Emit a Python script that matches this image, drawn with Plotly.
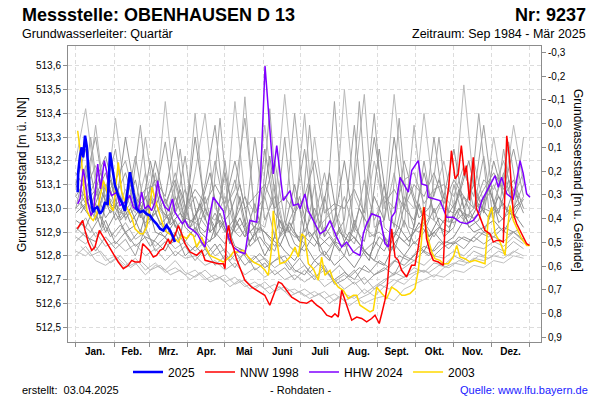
import plotly.graph_objects as go

# ---------------- data ----------------
month_labels = ["Jan.", "Feb.", "Mrz.", "Apr.", "Mai", "Juni", "Juli", "Aug.", "Sept.", "Okt.", "Nov.", "Dez."]
month_mid = [15.5, 45, 74.5, 105, 135.5, 166, 196.5, 227.5, 258, 288.5, 319, 349.5]
month_start = [0, 31, 59, 90, 120, 151, 181, 212, 243, 273, 304, 334, 365]

y_ticks = [512.5, 512.6, 512.7, 512.8, 512.9, 513.0, 513.1, 513.2, 513.3, 513.4, 513.5, 513.6]
y_ticktext = ["512,5", "512,6", "512,7", "512,8", "512,9", "513,0", "513,1", "513,2", "513,3", "513,4", "513,5", "513,6"]
depth_ticks = [-0.3, -0.2, -0.1, 0.0, 0.1, 0.2, 0.3, 0.4, 0.5, 0.6, 0.7, 0.8, 0.9]
depth_ticktext = ["-0,3", "-0,2", "-0,1", "0,0", "0,1", "0,2", "0,3", "0,4", "0,5", "0,6", "0,7", "0,8", "0,9"]
ground_level = 513.357
y_range = [512.437, 513.684]

# background years (grey), sampled every 8 days
grey_days = [0, 8, 16, 24, 32, 40, 48, 56, 64, 72, 80, 88, 96, 104, 112, 120, 128, 136, 144, 152, 160, 168, 176,
             184, 192, 200, 208, 216, 224, 232, 240, 248, 256, 264, 272, 280, 288, 296, 304, 312, 320, 328,
             336, 344, 352, 360]
grey_01 = [513.10, 513.25, 513.05, 513.15, 513.00, 513.30, 513.05, 512.98, 513.20, 513.02, 513.12, 512.95,
           513.30, 513.00, 512.92, 513.15, 512.95, 513.05, 512.90, 513.25, 512.98, 512.92, 513.10,
           512.90, 513.00, 512.88, 512.95, 513.20, 512.92, 512.86, 513.05, 512.95, 513.30, 513.00,
           512.95, 513.15, 512.98, 513.05, 513.25, 513.00, 513.10, 512.98, 513.20, 513.05, 513.12, 513.00]
grey_02 = [513.20, 513.42, 513.10, 513.00, 513.38, 513.05, 512.98, 513.15, 513.00, 513.45, 513.05, 512.95,
           513.15, 513.40, 513.00, 512.95, 513.45, 513.05, 512.98, 513.35, 513.00, 513.48, 513.05,
           512.95, 513.30, 513.00, 512.92, 513.50, 513.05, 512.95, 513.20, 513.00, 513.48, 513.05,
           513.00, 513.40, 513.05, 513.20, 513.00, 513.52, 513.10, 513.00, 513.30, 513.05, 513.35, 513.10]
grey_03 = [513.00, 513.05, 512.95, 513.10, 512.95, 513.00, 513.12, 512.92, 512.98, 512.90, 513.05, 512.92,
           512.88, 513.00, 512.90, 512.85, 512.95, 512.88, 513.02, 512.86, 512.82, 512.95, 512.85,
           512.82, 512.90, 512.80, 512.86, 512.80, 512.95, 512.82, 512.78, 512.88, 512.82, 512.95,
           512.85, 512.90, 513.00, 512.88, 512.92, 513.05, 512.95, 512.90, 513.00, 512.95, 513.08, 512.98]
grey_04 = [512.82, 512.80, 512.84, 512.78, 512.80, 512.76, 512.79, 512.74, 512.77, 512.73, 512.75, 512.72,
           512.74, 512.70, 512.72, 512.69, 512.71, 512.67, 512.69, 512.66, 512.68, 512.65, 512.66,
           512.63, 512.65, 512.62, 512.64, 512.61, 512.63, 512.60, 512.62, 512.63, 512.61, 512.66,
           512.68, 512.70, 512.72, 512.71, 512.74, 512.73, 512.76, 512.75, 512.78, 512.77, 512.80, 512.79]
grey_05 = [512.88, 512.85, 512.90, 512.84, 512.86, 512.82, 512.85, 512.80, 512.83, 512.78, 512.82, 512.79,
           512.80, 512.76, 512.78, 512.74, 512.77, 512.72, 512.75, 512.71, 512.74, 512.70, 512.72,
           512.69, 512.72, 512.67, 512.70, 512.66, 512.69, 512.64, 512.67, 512.70, 512.72, 512.75,
           512.78, 512.76, 512.80, 512.79, 512.82, 512.80, 512.84, 512.83, 512.86, 512.84, 512.88, 512.85]
grey_06 = [513.05, 513.12, 513.30, 513.02, 513.10, 513.00, 513.22, 512.98, 513.05, 513.28, 512.98, 513.08,
           512.95, 513.10, 513.35, 512.98, 513.12, 512.92, 513.30, 512.95, 513.05, 512.90, 513.00,
           513.25, 512.92, 513.05, 512.88, 512.95, 513.35, 512.92, 512.88, 513.10, 512.92, 513.20,
           513.05, 512.95, 513.30, 513.00, 512.98, 513.15, 513.05, 513.35, 513.02, 513.15, 513.00, 513.10]
grey_07 = [512.95, 512.92, 513.02, 512.90, 512.98, 512.90, 512.93, 513.05, 512.90, 512.88, 512.95, 512.86,
           512.92, 512.85, 512.88, 512.95, 512.84, 512.82, 512.90, 512.80, 512.88, 512.82, 512.78,
           512.85, 512.78, 512.82, 512.76, 512.80, 512.75, 512.82, 512.78, 512.76, 512.85, 512.80,
           512.86, 512.82, 512.90, 512.85, 512.88, 512.95, 512.90, 512.92, 512.95, 512.90, 512.98, 512.92]
grey_08 = [513.15, 513.08, 513.18, 513.05, 513.12, 513.20, 513.02, 513.08, 513.10, 513.00, 513.15, 512.98,
           513.05, 512.95, 513.20, 513.00, 513.08, 513.38, 512.98, 513.05, 513.20, 512.95, 513.40,
           513.00, 512.95, 513.15, 512.92, 513.05, 512.90, 513.12, 512.95, 513.05, 513.00, 513.12,
           513.15, 513.02, 513.08, 513.10, 513.05, 513.18, 513.00, 513.12, 513.08, 513.20, 513.05, 513.15]
grey_09 = [512.92, 512.88, 512.86, 512.95, 512.85, 512.90, 512.84, 512.88, 512.86, 512.82, 512.90, 512.80,
           512.84, 512.80, 512.85, 512.78, 512.82, 512.76, 512.80, 512.75, 512.78, 512.80, 512.74,
           512.72, 512.78, 512.74, 512.70, 512.73, 512.70, 512.76, 512.72, 512.74, 512.78, 512.76,
           512.80, 512.84, 512.82, 512.86, 512.85, 512.88, 512.86, 512.90, 512.88, 512.92, 512.90, 512.86]
grey_10 = [513.00, 513.18, 512.95, 513.08, 513.25, 512.95, 513.05, 512.92, 513.15, 512.92, 512.98, 513.22,
           512.90, 513.05, 512.88, 513.20, 512.90, 512.95, 512.86, 513.05, 512.88, 513.30, 512.90,
           512.85, 513.10, 512.88, 513.45, 512.90, 512.85, 513.00, 513.40, 512.92, 512.88, 513.05,
           512.92, 513.20, 512.95, 512.90, 513.10, 512.95, 513.00, 513.22, 512.95, 513.25, 512.98, 513.05]
grey_11 = [512.90, 512.96, 512.88, 512.92, 512.88, 512.94, 512.87, 512.90, 512.84, 512.88, 512.83, 512.86,
           512.82, 512.86, 512.80, 512.83, 512.78, 512.81, 512.77, 512.79, 512.75, 512.78, 512.73,
           512.76, 512.71, 512.74, 512.69, 512.72, 512.68, 512.71, 512.66, 512.69, 512.73, 512.71,
           512.75, 512.73, 512.77, 512.76, 512.80, 512.78, 512.82, 512.80, 512.84, 512.82, 512.86, 512.83]
grey_12 = [513.05, 513.00, 513.35, 513.02, 512.98, 513.08, 513.00, 513.30, 513.02, 512.96, 513.10, 512.94,
           513.40, 512.98, 512.95, 513.05, 512.92, 513.47, 512.95, 512.92, 513.10, 512.90, 512.95,
           513.40, 512.90, 512.95, 513.00, 512.88, 513.10, 513.48, 512.92, 512.95, 513.15, 512.92,
           513.35, 512.98, 512.95, 513.05, 513.00, 512.95, 513.20, 513.02, 513.10, 513.00, 512.98, 513.30]
grey_13 = [512.80, 512.84, 512.78, 512.76, 512.79, 512.75, 512.77, 512.72, 512.76, 512.74, 512.78, 512.73,
           512.71, 512.74, 512.70, 512.72, 512.68, 512.70, 512.66, 512.69, 512.65, 512.67, 512.64,
           512.66, 512.63, 512.65, 512.61, 512.64, 512.62, 512.66, 512.63, 512.67, 512.70, 512.68,
           512.72, 512.74, 512.71, 512.75, 512.77, 512.76, 512.79, 512.78, 512.80, 512.79, 512.82, 512.80]
grey_14 = [512.98, 513.02, 513.08, 512.96, 513.02, 512.96, 513.00, 512.94, 512.98, 513.04, 512.92, 512.96,
           512.94, 512.90, 512.98, 512.90, 512.96, 512.88, 512.92, 512.90, 512.84, 512.92, 512.88,
           512.88, 512.84, 512.92, 512.86, 512.84, 512.88, 512.82, 512.86, 512.82, 512.90, 512.86,
           512.90, 512.94, 512.88, 512.95, 512.94, 512.98, 512.96, 513.00, 512.98, 513.02, 512.96, 513.04]
grey_15 = [513.10, 513.02, 513.12, 513.22, 513.05, 513.15, 513.00, 513.04, 513.12, 513.05, 513.30, 513.00,
           513.08, 513.02, 513.10, 513.02, 513.20, 513.00, 513.05, 513.10, 513.00, 513.05, 512.98,
           513.05, 513.20, 512.98, 513.02, 513.00, 513.08, 512.98, 513.30, 513.02, 513.08, 513.00,
           513.10, 513.05, 513.15, 513.02, 513.12, 513.05, 513.00, 513.08, 513.15, 513.08, 513.25, 513.05]
grey_16 = [512.86, 512.90, 512.82, 512.88, 512.83, 512.87, 512.80, 512.92, 512.82, 512.86, 512.80, 512.84,
           512.78, 512.83, 512.76, 512.80, 512.75, 512.82, 512.74, 512.77, 512.72, 512.75, 512.70,
           512.74, 512.70, 512.76, 512.68, 512.70, 512.74, 512.68, 512.72, 512.75, 512.72, 512.80,
           512.78, 512.82, 512.80, 512.84, 512.86, 512.83, 512.88, 512.85, 512.88, 512.86, 512.90, 512.87]

# more background years, sampled every 8 days starting at day 4
grey_days_b = [4, 12, 20, 28, 36, 44, 52, 60, 68, 76, 84, 92, 100, 108, 116, 124, 132, 140, 148, 156, 164, 172,
               180, 188, 196, 204, 212, 220, 228, 236, 244, 252, 260, 268, 276, 284, 292, 300, 308, 316, 324,
               332, 340, 348, 356]
grey_b1 = [513.02, 512.96, 513.08, 512.98, 513.04, 512.94, 513.00, 512.95, 513.06, 512.93, 512.98, 512.92,
           513.02, 512.90, 512.95, 512.88, 512.96, 512.86, 512.92, 512.88, 512.84, 512.94, 512.86, 512.90,
           512.84, 512.88, 512.82, 512.90, 512.85, 512.80, 512.88, 512.84, 512.92, 512.86, 512.94, 512.88,
           512.96, 512.92, 513.00, 512.94, 513.02, 512.96, 513.05, 512.98, 513.02]
grey_b2 = [513.08, 513.00, 513.15, 513.02, 512.98, 513.10, 512.96, 513.20, 513.00, 512.95, 513.08, 512.94,
           513.00, 513.15, 512.92, 512.98, 513.10, 512.90, 512.95, 513.22, 512.92, 512.90, 513.05, 512.88,
           512.92, 513.15, 512.90, 512.86, 513.00, 512.92, 513.25, 512.95, 512.92, 513.10, 512.96, 513.00,
           513.12, 512.98, 513.05, 513.20, 513.00, 513.08, 512.98, 513.12, 513.04]
grey_b3 = [512.94, 512.90, 512.97, 512.88, 512.93, 512.86, 512.91, 512.84, 512.90, 512.85, 512.88, 512.82,
           512.86, 512.80, 512.85, 512.78, 512.83, 512.77, 512.81, 512.76, 512.80, 512.74, 512.79, 512.73,
           512.77, 512.72, 512.76, 512.71, 512.75, 512.73, 512.78, 512.75, 512.80, 512.78, 512.83, 512.80,
           512.86, 512.83, 512.88, 512.86, 512.90, 512.88, 512.92, 512.89, 512.91]
grey_b4 = [513.00, 513.30, 512.98, 513.04, 512.96, 513.02, 513.35, 512.96, 513.00, 512.94, 513.25, 512.92,
           512.96, 512.90, 513.38, 512.92, 512.88, 512.94, 512.90, 513.42, 512.88, 512.92, 512.86, 513.35,
           512.88, 512.84, 512.90, 512.86, 513.45, 512.88, 512.90, 512.86, 513.38, 512.92, 512.90, 512.96,
           513.30, 512.94, 513.00, 512.96, 513.40, 513.00, 512.98, 513.28, 513.02]
grey_b5 = [512.98, 513.05, 512.92, 513.12, 512.95, 513.00, 512.90, 513.05, 512.93, 512.98, 512.88, 513.10,
           512.90, 512.86, 512.98, 512.85, 513.05, 512.84, 512.88, 512.82, 512.95, 512.84, 512.80, 513.10,
           512.82, 512.78, 512.92, 512.80, 512.84, 512.78, 512.95, 512.82, 512.88, 512.84, 513.02, 512.88,
           512.92, 512.90, 513.08, 512.92, 512.95, 513.10, 512.94, 512.98, 512.96]
grey_b6 = [512.84, 512.80, 512.82, 512.77, 512.80, 512.75, 512.78, 512.74, 512.76, 512.72, 512.74, 512.70,
           512.73, 512.69, 512.71, 512.67, 512.70, 512.66, 512.68, 512.64, 512.67, 512.63, 512.65, 512.62,
           512.64, 512.60, 512.63, 512.59, 512.62, 512.64, 512.68, 512.66, 512.70, 512.72, 512.74, 512.73,
           512.76, 512.75, 512.78, 512.77, 512.80, 512.79, 512.82, 512.80, 512.83]

# 2025 (blue)
y2025_days = [1.6, 2.0, 3.5, 4.8, 6.0, 7.5, 8.8, 10.0, 11.5, 12.9, 14.0, 15.5, 17.4, 19.5, 21.4, 23.5, 25.7,
              27.6, 29.4, 31.6, 34.2, 37.0, 39.6, 42.3, 43.6, 46.3, 49.0, 51.7, 54.3, 57.0, 59.7, 62.4,
              65.0, 67.8, 70.4, 73.0, 75.8, 77.7, 79.8]
y2025_vals = [513.068, 513.152, 513.222, 513.257, 513.215, 513.306, 513.264, 513.167, 513.068, 513.012,
              512.984, 513.000, 513.005, 512.977, 512.990, 513.023, 513.019, 513.236, 513.166, 513.096,
              513.054, 513.026, 512.990, 513.096, 513.152, 513.068, 512.998, 512.984, 512.990, 512.977,
              512.970, 512.949, 512.935, 512.914, 512.907, 512.928, 512.907, 512.886, 512.858]

# NNW 1998 (red)
nnw_days = [1.3, 3.0, 5.6, 7.5, 10.0, 12.9, 15.5, 19.0, 22.2, 24.9, 28.9, 34.2, 38.3, 42.3, 45.0, 47.7, 51.7,
            53.9, 56.5, 59.2, 62.4, 65.0, 67.8, 70.4, 74.4, 75.8, 79.8, 82.5, 85.2, 87.9, 91.9, 97.3, 101.3,
            104.0, 109.3, 114.6, 118.6, 120.0, 121.4, 123.0, 124.5, 126.7, 129.0, 133.0, 136.0, 141.5,
            148.0, 152.0, 156.0, 159.0, 163.0, 165.6, 169.7, 173.6, 177.6, 180.0, 185.6, 189.7, 193.7,
            197.7, 201.8, 205.8, 208.4, 211.0, 213.8, 216.5, 219.0, 221.9, 225.9, 229.9, 233.9, 237.9,
            240.6, 244.0, 246.0, 248.6, 250.5, 254.0, 256.7, 259.3, 262.0, 266.0, 270.0, 272.7, 275.4,
            278.0, 280.0, 282.0, 284.8, 287.5, 291.5, 295.5, 297.5, 300.0, 302.0, 305.0, 307.5, 310.0,
            312.5, 314.0, 316.5, 319.6, 322.0, 325.0, 329.0, 333.0, 335.7, 338.4, 341.0, 343.7, 346.5,
            348.6, 350.0, 351.8, 354.5, 358.5, 362.5, 364.7]
nnw_vals = [512.914, 512.928, 512.949, 512.907, 512.858, 512.823, 512.837, 512.907, 512.879, 512.851, 512.816,
            512.774, 512.746, 512.760, 512.781, 512.774, 512.774, 512.851, 512.837, 512.823, 512.795, 512.802,
            512.823, 512.830, 512.872, 512.851, 512.886, 512.928, 512.893, 512.851, 512.816, 512.802, 512.823,
            512.781, 512.774, 512.767, 512.767, 512.746, 512.893, 512.928, 512.872, 512.837, 512.790, 512.740,
            512.697, 512.668, 512.648, 512.634, 512.592, 512.634, 512.690, 512.683, 512.655, 512.626, 512.613,
            512.605, 512.600, 512.613, 512.592, 512.578, 512.550, 512.542, 512.556, 512.542, 512.655, 512.613,
            512.571, 512.529, 512.542, 512.536, 512.522, 512.536, 512.550, 512.515, 512.556, 512.613, 512.676,
            512.914, 512.795, 512.781, 512.739, 512.711, 512.760, 512.760, 512.837, 512.935, 513.005, 512.872,
            512.816, 512.781, 512.774, 512.760, 513.000, 513.100, 513.243, 513.124, 513.145, 513.264, 513.138,
            513.180, 513.033, 513.215, 513.000, 512.963, 512.907, 512.893, 512.858, 512.865, 512.865, 512.858,
            513.306, 513.215, 513.117, 512.977, 512.935, 512.893, 512.851, 512.844]

# HHW 2024 (purple)
hhw_days = [1.6, 3.5, 4.8, 6.0, 7.5, 9.6, 12.3, 14.5, 17.7, 20.0, 23.0, 25.0, 26.5, 28.9, 33.0, 35.6, 39.6,
            43.6, 46.3, 50.3, 53.0, 55.7, 58.4, 61.0, 63.7, 65.9, 67.8, 71.8, 75.0, 77.7, 79.8, 82.5, 85.7,
            87.9, 90.5, 94.5, 98.0, 101.0, 104.0, 107.0, 110.6, 118.6, 122.7, 126.7, 132.1, 136.1, 140.1,
            145.5, 148.2, 152.2, 154.8, 158.8, 161.6, 164.2, 166.9, 172.3, 174.9, 178.9, 180.3, 184.3,
            187.0, 192.4, 196.4, 200.4, 204.4, 209.8, 213.8, 217.8, 223.2, 228.5, 231.2, 233.9, 237.9,
            244.6, 248.6, 251.3, 254.0, 256.7, 260.7, 267.4, 270.1, 275.4, 278.1, 282.2, 283.4, 292.8,
            298.2, 303.5, 308.9, 314.3, 319.6, 323.6, 326.4, 337.1, 339.7, 342.4, 346.5, 351.8, 357.2,
            359.8, 362.5, 365.2]
hhw_vals = [513.019, 513.040, 513.110, 513.166, 513.124, 513.026, 512.970, 512.990, 513.187, 513.082, 513.201,
            513.152, 513.082, 513.054, 513.068, 513.012, 513.026, 513.054, 513.005, 512.990, 513.068, 512.998,
            513.012, 512.990, 513.026, 513.117, 513.054, 513.005, 512.990, 513.040, 512.984, 512.963, 512.935,
            512.949, 512.921, 512.907, 512.890, 512.860, 512.837, 512.950, 513.047, 512.990, 512.879, 512.837,
            512.816, 512.809, 512.949, 512.942, 513.075, 513.600, 513.410, 513.145, 513.264, 513.159, 513.033,
            513.075, 513.012, 513.019, 512.998, 513.061, 512.990, 512.935, 512.893, 512.907, 512.949, 512.879,
            512.837, 512.858, 512.816, 512.802, 512.893, 512.935, 512.977, 512.963, 512.851, 512.837, 512.963,
            512.984, 513.131, 513.068, 513.159, 513.201, 513.103, 513.096, 513.047, 513.033, 512.963, 512.963,
            512.942, 512.935, 512.949, 512.977, 513.033, 513.138, 513.089, 513.131, 513.061, 513.040, 513.201,
            513.145, 513.061, 513.047]

# 2003 (yellow)
y2003_days = [1.6, 2.7, 4.8, 6.7, 9.1, 11.5, 14.1, 16.9, 19.5, 22.2, 24.9, 27.6, 30.2, 34.2, 37.0, 41.0, 45.0,
              47.7, 51.7, 54.3, 57.1, 59.7, 61.3, 63.7, 67.8, 70.4, 73.2, 77.2, 79.8, 82.5, 85.2, 89.2, 91.9,
              94.5, 97.3, 101.3, 103.9, 107.9, 113.3, 118.6, 124.0, 126.7, 130.7, 134.7, 138.7, 142.8, 148.2,
              152.2, 154.8, 157.6, 158.8, 161.6, 164.2, 168.3, 172.3, 176.3, 178.9, 181.7, 184.3, 187.0,
              191.0, 195.0, 197.7, 200.4, 204.4, 207.1, 211.1, 215.1, 219.1, 223.2, 225.9, 228.5, 232.6,
              236.6, 239.2, 242.0, 246.0, 250.0, 254.0, 258.0, 262.1, 264.7, 268.7, 272.7, 275.4, 278.1,
              279.4, 282.2, 286.2, 288.8, 292.8, 295.5, 299.5, 303.5, 306.3, 308.9, 312.9, 316.9, 320.9,
              324.9, 329.0, 331.7, 334.4, 337.1, 341.1, 345.1, 349.1, 351.8, 355.8, 358.5, 362.5, 365.2]
y2003_vals = [513.327, 513.278, 513.194, 513.080, 512.990, 512.963, 512.949, 512.977, 513.050, 513.117,
              513.075, 513.012, 512.990, 513.194, 513.070, 513.005, 512.963, 512.914, 512.893, 512.893,
              512.921, 513.005, 513.089, 513.040, 512.970, 512.928, 512.900, 512.886, 512.872, 512.858,
              512.886, 512.872, 512.893, 512.886, 512.837, 512.879, 512.844, 512.802, 512.788, 512.774,
              512.795, 512.816, 512.816, 512.823, 512.795, 512.774, 512.760, 512.739, 512.718, 512.837,
              512.990, 512.879, 512.767, 512.774, 512.795, 512.837, 512.795, 512.893, 512.879, 512.767,
              512.746, 512.697, 512.795, 512.718, 512.739, 512.697, 512.668, 512.655, 512.620, 512.634,
              512.634, 512.592, 512.578, 512.564, 512.571, 512.668, 512.641, 512.620, 512.668, 512.655,
              512.634, 512.634, 512.641, 512.662, 512.739, 512.872, 513.005, 512.893, 512.816, 512.788,
              512.781, 512.767, 512.767, 512.795, 512.844, 512.795, 512.788, 512.774, 512.781, 512.774,
              512.767, 512.963, 513.005, 512.893, 512.858, 512.802, 513.012, 512.949, 512.907, 512.872,
              512.844, 512.844]

# ---------------- layout helpers ----------------
W, H = 600, 400
L, R, T, B = 68, 541, 46, 342


def px_x(x):
    return (x - L) / (R - L)


def px_y(y):
    return (B - y) / (B - T)


FONT = "Liberation Sans, Arial, sans-serif"

fig = go.Figure()

grey_a = [(grey_04, "#c0c0c0"), (grey_13, "#bcbcbc"), (grey_05, "#b4b4b4"), (grey_11, "#b0b0b0"),
          (grey_02, "#bababa"), (grey_12, "#b2b2b2"), (grey_10, "#a4a4a4"), (grey_06, "#a0a0a0"),
          (grey_08, "#a8a8a8"), (grey_15, "#9c9c9c"), (grey_01, "#949494"), (grey_16, "#9e9e9e"),
          (grey_09, "#929292"), (grey_07, "#8c8c8c"), (grey_03, "#969696"), (grey_14, "#989898")]
grey_b = [(grey_b6, "#b8b8b8"), (grey_b4, "#a6a6a6"), (grey_b3, "#9a9a9a"), (grey_b2, "#929292"),
          (grey_b5, "#8a8a8a"), (grey_b1, "#868686")]
for vals, col in grey_a:
    fig.add_trace(go.Scatter(x=grey_days, y=vals, mode="lines", line=dict(color=col, width=1),
                             showlegend=False, hoverinfo="skip"))
for vals, col in grey_b:
    fig.add_trace(go.Scatter(x=grey_days_b, y=vals, mode="lines", line=dict(color=col, width=1),
                             showlegend=False, hoverinfo="skip"))

fig.add_trace(go.Scatter(x=y2003_days, y=y2003_vals, mode="lines", name="2003",
                         line=dict(color="#ffd800", width=1.5), legendrank=4))
fig.add_trace(go.Scatter(x=hhw_days, y=hhw_vals, mode="lines", name="HHW 2024",
                         line=dict(color="#8000ff", width=1.5), legendrank=3))
fig.add_trace(go.Scatter(x=nnw_days, y=nnw_vals, mode="lines", name="NNW 1998",
                         line=dict(color="#ff0000", width=1.5), legendrank=2))
fig.add_trace(go.Scatter(x=y2025_days, y=y2025_vals, mode="lines", name="2025",
                         line=dict(color="#0000ff", width=2.6), legendrank=1))
# right axis carrier
fig.add_trace(go.Scatter(x=[None], y=[None], yaxis="y2", showlegend=False, hoverinfo="skip"))

grid = "#dcdcdc"
fig.update_layout(
    width=W, height=H,
    margin=dict(l=L, r=W - R, t=T, b=H - B),
    paper_bgcolor="white", plot_bgcolor="white",
    font=dict(family=FONT, size=11, color="#000"),
    showlegend=True,
    legend=dict(orientation="h", x=0.5, xanchor="center", y=px_y(372), yanchor="middle",
                font=dict(size=12, color="#000"), itemwidth=30, traceorder="normal",
                bgcolor="rgba(0,0,0,0)"),
    xaxis=dict(range=[(L - 75.7) / 1.244, (R - 75.7) / 1.244], showgrid=False, zeroline=False,
               tickmode="array", tickvals=month_mid, ticktext=month_labels, ticks="",
               tickfont=dict(size=10, family="Liberation Sans, Arial", color="#000", weight="bold"),
               showline=True, linecolor="#8c8c8c", linewidth=1, mirror=True,
               minor=dict(tickmode="array", tickvals=month_start, ticks="outside", ticklen=4,
                          tickcolor="#8c8c8c", showgrid=True, gridcolor=grid, griddash="4px,3px",
                          gridwidth=1)),
    yaxis=dict(range=y_range, tickmode="array", tickvals=y_ticks, ticktext=y_ticktext,
               ticks="outside", ticklen=4, tickcolor="#8c8c8c", tickfont=dict(size=10, color="#000"),
               showgrid=True, gridcolor=grid, griddash="4px,3px", zeroline=False,
               showline=True, linecolor="#8c8c8c", linewidth=1),
    yaxis2=dict(overlaying="y", side="right", range=[ground_level - y_range[0], ground_level - y_range[1]],
                tickmode="array", tickvals=depth_ticks, ticktext=depth_ticktext,
                ticks="outside", ticklen=4, tickcolor="#8c8c8c", tickfont=dict(size=10, color="#000"),
                showgrid=False, zeroline=False, showline=True, linecolor="#8c8c8c", linewidth=1),
)

ann = [
    dict(text="<b>Messstelle: OBENHAUSEN D 13</b>", x=px_x(20), y=px_y(15), xanchor="left", size=18),
    dict(text="<b>Nr: 9237</b>", x=px_x(588), y=px_y(15), xanchor="right", size=18),
    dict(text="Grundwasserleiter: Quartär", x=px_x(20), y=px_y(34), xanchor="left", size=12.5),
    dict(text="Zeitraum: Sep 1984 - Mär 2025", x=px_x(588), y=px_y(34), xanchor="right", size=12.5),
    dict(text="erstellt:  03.04.2025", x=px_x(20), y=px_y(390), xanchor="left", size=11),
    dict(text="- Rohdaten -", x=px_x(300), y=px_y(390), xanchor="center", size=11),
    dict(text="Quelle: www.lfu.bayern.de", x=px_x(590), y=px_y(390), xanchor="right", size=11,
         color="#1a1aff"),
]
for a in ann:
    fig.add_annotation(text=a["text"], x=a["x"], y=a["y"], xref="paper", yref="paper",
                       xanchor=a["xanchor"], yanchor="middle", showarrow=False,
                       font=dict(size=a["size"], family=FONT, color=a.get("color", "#000")))

fig.add_annotation(text="Grundwasserstand [m ü. NN]", x=px_x(22), y=px_y(175), xref="paper", yref="paper",
                   textangle=-90, showarrow=False, xanchor="center", yanchor="middle",
                   font=dict(size=12, family=FONT, color="#000"))
fig.add_annotation(text="Grundwasserstand [m u. Gelände]", x=px_x(578), y=px_y(180), xref="paper",
                   yref="paper", textangle=90, showarrow=False, xanchor="center", yanchor="middle",
                   font=dict(size=12, family=FONT, color="#000"))

fig.write_html("out.html", config={"displayModeBar": False},
               post_script="document.body.style.margin='0';")
